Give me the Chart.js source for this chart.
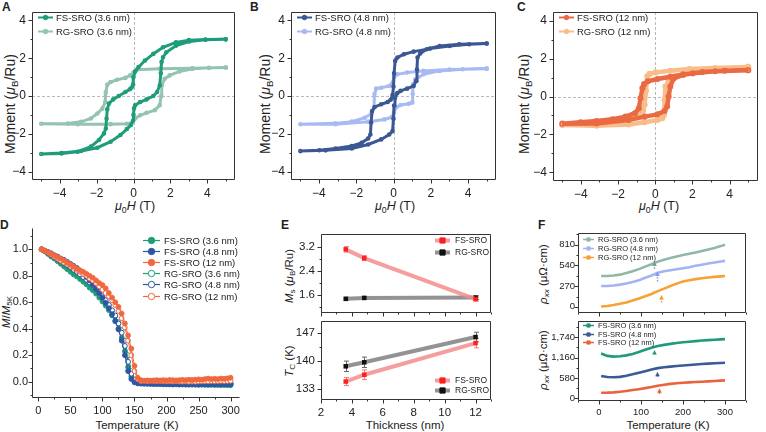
<!DOCTYPE html>
<html>
<head>
<meta charset="utf-8">
<script src="https://cdn.jsdelivr.net/npm/chart.js@4.4.1/dist/chart.umd.min.js"></script>
<style>
  body { margin: 0; background: #fff; }
  #wrap { position: relative; width: 766px; height: 432px; overflow: hidden; font-family: 'Liberation Sans', Arial, sans-serif; color: #222; }
  canvas { position: absolute; }
  .lbl { position: absolute; font-weight: bold; font-size: 12px; line-height: 12px; }
  .ttl { position: absolute; white-space: nowrap; transform: translate(-50%, -50%); font-size: 11.5px; line-height: 14px; }
  .ttl.v { transform: translate(-50%, -50%) rotate(-90deg); }
  sub { font-size: 70%; vertical-align: -0.3em; line-height: 0; }
</style>
</head>
<body>
<div id="wrap">
  <div class="lbl" style="left:2px;top:1px">A</div>
  <div class="lbl" style="left:250px;top:1px">B</div>
  <div class="lbl" style="left:517px;top:1px">C</div>
  <div class="lbl" style="left:0px;top:219px">D</div>
  <div class="lbl" style="left:281px;top:219px">E</div>
  <div class="lbl" style="left:538px;top:219px">F</div>

  <div class="ttl v" style="left:10px;top:104px;font-size:14px">Moment (<i>μ</i><sub>B</sub>/Ru)</div>
  <div class="ttl v" style="left:265px;top:104px;font-size:14px">Moment (<i>μ</i><sub>B</sub>/Ru)</div>
  <div class="ttl v" style="left:524px;top:104px;font-size:14px">Moment (<i>μ</i><sub>B</sub>/Ru)</div>
  <div class="ttl" style="left:135px;top:206px;font-size:12.5px"><i>μ</i><sub>0</sub><i>H</i> (T)</div>
  <div class="ttl" style="left:395px;top:206px;font-size:12.5px"><i>μ</i><sub>0</sub><i>H</i> (T)</div>
  <div class="ttl" style="left:659px;top:206px;font-size:12.5px"><i>μ</i><sub>0</sub><i>H</i> (T)</div>

  <div class="ttl v" style="left:6px;top:312px"><i>M</i>/<i>M</i><sub>5K</sub></div>
  <div class="ttl" style="left:137px;top:425px">Temperature (K)</div>
  <div class="ttl v" style="left:289px;top:276px"><i>M</i><sub>s</sub> (<i>μ</i><sub>B</sub>/Ru)</div>
  <div class="ttl v" style="left:289px;top:361px"><i>T</i><sub>C</sub> (K)</div>
  <div class="ttl" style="left:405px;top:425px">Thickness (nm)</div>
  <div class="ttl v" style="left:543px;top:274px"><i>ρ<sub>xx</sub></i> (μΩ·cm)</div>
  <div class="ttl v" style="left:543px;top:360px"><i>ρ<sub>xx</sub></i> (μΩ·cm)</div>
  <div class="ttl" style="left:668px;top:425px">Temperature (K)</div>
</div>
<script>
// ---- Panel A: hysteresis, 3.6 nm (descending branch then ascending branch)
const aFsH = [5, 3.9, 3.0, 2.3, 1.6, 1.07, 0.62, 0.27, 0.09, 0.0, -0.02, -0.1, -0.2, -0.44, -0.8, -1.1, -1.33, -1.42, -1.46, -1.5, -1.6, -1.87, -2.31, -3.02, -3.9, -5,
  -3.9, -2.84, -1.96, -1.24, -0.71, -0.36, -0.14, -0.02, 0.0, 0.03, 0.09, 0.36, 0.71, 1.07, 1.28, 1.42, 1.48, 1.52, 1.6, 1.78, 2.31, 3.02, 3.9, 5];
const aFsM = [3.0, 2.99, 2.96, 2.84, 2.58, 2.23, 1.88, 1.53, 1.3, 1.0, 0.6, 0.45, 0.36, 0.21, 0.0, -0.18, -0.4, -0.7, -1.2, -1.72, -1.98, -2.33, -2.68, -2.95, -3.04, -3.07,
  -3.02, -2.91, -2.74, -2.42, -2.07, -1.75, -1.54, -1.3, -1.0, -0.65, -0.49, -0.32, -0.18, 0.0, 0.21, 0.56, 1.2, 1.8, 2.05, 2.32, 2.67, 2.89, 2.98, 3.0];
const aRgH = [5, 3.2, 1.42, 0.18, 0.0, -0.18, -0.44, -0.89, -1.24, -1.42, -1.5, -1.53, -1.69, -1.96, -2.31, -2.84, -3.56, -5,
  -3.02, -1.24, -0.36, -0.09, 0.09, 0.36, 0.71, 1.16, 1.42, 1.5, 1.53, 1.69, 1.96, 2.49, 3.2, 4.09, 5];
const aRgM = [1.51, 1.47, 1.44, 1.39, 1.26, 1.09, 0.96, 0.86, 0.74, 0.6, 0.2, -0.32, -0.67, -0.93, -1.19, -1.37, -1.46, -1.47,
  -1.49, -1.49, -1.47, -1.42, -1.19, -1.02, -0.89, -0.75, -0.49, 0.0, 0.56, 0.91, 1.09, 1.3, 1.44, 1.49, 1.51];

// ---- Panel B: 4.8 nm
const bFsH = [5, 4.06, 3.01, 1.96, 1.08, 0.56, 0.21, 0.09, 0.03, 0.0, -0.05, -0.15, -0.31, -0.66, -1.01, -1.15, -1.2, -1.24, -1.36, -1.71, -2.24, -3.11, -3.99, -5,
  -3.64, -2.24, -1.36, -0.66, -0.23, -0.05, 0.0, 0.03, 0.08, 0.2, 0.38, 0.73, 1.08, 1.22, 1.26, 1.29, 1.43, 1.78, 2.48, 3.53, 5];
const bFsM = [2.78, 2.74, 2.65, 2.51, 2.35, 2.21, 2.04, 1.86, 1.2, 0.5, 0.05, -0.2, -0.32, -0.44, -0.58, -0.8, -1.4, -2.04, -2.25, -2.48, -2.65, -2.78, -2.87, -2.92,
  -2.88, -2.78, -2.57, -2.3, -2.04, -1.86, -1.2, -0.5, -0.1, 0.15, 0.27, 0.39, 0.53, 0.8, 1.4, 2.04, 2.25, 2.48, 2.65, 2.74, 2.78];
const bRgH = [5, 3.01, 1.61, 0.73, 0.21, 0.03, -0.05, -0.23, -0.66, -0.93, -1.02, -1.05, -1.19, -1.54, -2.24, -3.11, -5,
  -3.11, -1.36, -0.49, -0.1, 0.03, 0.12, 0.38, 0.82, 1.0, 1.03, 1.05, 1.17, 1.61, 2.48, 3.71, 5];
const bRgM = [1.45, 1.4, 1.33, 1.24, 1.15, 1.01, 0.71, 0.53, 0.44, 0.39, 0.1, -0.62, -0.94, -1.15, -1.36, -1.45, -1.5,
  -1.49, -1.36, -1.24, -1.12, -0.88, -0.62, -0.48, -0.41, -0.35, 0.1, 0.62, 0.88, 1.15, 1.33, 1.42, 1.45];

// ---- Panel C: 12 nm
const cFsH = [5, 3.74, 2.53, 1.5, 0.81, 0.12, -0.4, -0.6, -0.69, -0.79, -0.88, -1.09, -1.6, -2.29, -3.16, -4.02, -5,
  -3.16, -1.43, -0.57, 0.12, 0.5, 0.64, 0.72, 0.81, 0.98, 1.5, 2.02, 3.22, 5];
const cFsM = [1.38, 1.36, 1.29, 1.15, 1.04, 0.92, 0.8, 0.65, 0.44, -0.09, -0.62, -0.88, -1.06, -1.2, -1.29, -1.36, -1.43,
  -1.42, -1.24, -1.06, -0.94, -0.76, -0.53, 0.0, 0.53, 0.94, 1.15, 1.22, 1.33, 1.38];
const cRgH = [5, 3.22, 1.84, 0.81, 0.03, -0.31, -0.43, -0.5, -0.57, -0.66, -0.91, -1.43, -2.29, -3.16, -5,
  -3.16, -1.43, -0.57, 0.12, 0.38, 0.47, 0.5, 0.55, 0.72, 1.07, 1.84, 3.22, 5];
const cRgM = [1.56, 1.5, 1.45, 1.36, 1.27, 1.19, 1.06, 0.3, -0.44, -0.76, -0.94, -1.12, -1.29, -1.42, -1.5,
  -1.54, -1.47, -1.36, -1.24, -1.15, -0.97, -0.2, 0.53, 0.8, 1.06, 1.29, 1.45, 1.56];

// ---- Panel D: normalised M vs T
const dT = [5, 10, 15, 20, 25, 30, 35, 40, 45, 50, 55, 60, 65, 70, 75, 80, 85, 90, 95, 100,
  105, 110, 115, 120, 125, 130, 135, 140, 145, 150, 155, 160, 165, 170, 175, 180, 185, 190, 195, 200,
  205, 210, 215, 220, 225, 230, 235, 240, 245, 250, 255, 260, 265, 270, 275, 280, 285, 290, 295, 300];
const dFs36 = [1.0, 0.985, 0.965, 0.945, 0.93, 0.91, 0.89, 0.87, 0.85, 0.83, 0.81, 0.795, 0.775, 0.755, 0.735, 0.71, 0.69, 0.665, 0.635, 0.605,
  0.575, 0.54, 0.5, 0.455, 0.4, 0.33, 0.23, 0.11, 0.04, 0.008, -0.005, -0.01, -0.012, -0.014, -0.015, -0.016, -0.018, -0.017, -0.019, -0.02,
  -0.02, -0.021, -0.02, -0.022, -0.021, -0.022, -0.023, -0.022, -0.023, -0.024, -0.023, -0.024, -0.025, -0.024, -0.025, -0.025, -0.026, -0.025, -0.026, -0.027];
const dFs48 = [1.0, 0.99, 0.98, 0.97, 0.955, 0.945, 0.93, 0.92, 0.905, 0.89, 0.875, 0.86, 0.84, 0.815, 0.79, 0.765, 0.735, 0.7, 0.67, 0.635,
  0.595, 0.555, 0.51, 0.46, 0.395, 0.31, 0.2, 0.08, 0.02, -0.005, -0.013, -0.015, -0.016, -0.016, -0.017, -0.018, -0.017, -0.018, -0.019, -0.018,
  -0.019, -0.02, -0.019, -0.02, -0.02, -0.021, -0.02, -0.021, -0.02, -0.021, -0.02, -0.021, -0.02, -0.02, -0.021, -0.02, -0.021, -0.02, -0.021, -0.02];
const dFs12 = [1.0, 0.99, 0.975, 0.965, 0.955, 0.94, 0.93, 0.915, 0.9, 0.885, 0.87, 0.855, 0.84, 0.83, 0.815, 0.8, 0.785, 0.765, 0.745, 0.73,
  0.705, 0.67, 0.635, 0.6, 0.565, 0.515, 0.44, 0.35, 0.25, 0.12, 0.03, 0.012, 0.008, 0.01, 0.008, 0.01, 0.012, 0.01, 0.012, 0.01,
  0.013, 0.012, 0.01, 0.012, 0.014, 0.012, 0.015, 0.013, 0.016, 0.018, 0.016, 0.02, 0.024, 0.02, 0.022, 0.02, 0.024, 0.022, 0.025, 0.03];
const dRg36 = [1.0, 0.985, 0.97, 0.95, 0.935, 0.915, 0.9, 0.88, 0.86, 0.845, 0.825, 0.805, 0.79, 0.77, 0.75, 0.73, 0.71, 0.69, 0.665, 0.635,
  0.605, 0.575, 0.535, 0.495, 0.45, 0.39, 0.31, 0.2, 0.08, 0.015, 0.002, 0.0, -0.002, -0.004, -0.005, -0.004, -0.006, -0.005, -0.007, -0.006,
  -0.008, -0.007, -0.009, -0.008, -0.01, -0.009, -0.01, -0.011, -0.01, -0.012, -0.011, -0.012, -0.013, -0.012, -0.013, -0.012, -0.013, -0.014, -0.013, -0.013];
const dRg48 = [1.0, 0.99, 0.97, 0.955, 0.94, 0.925, 0.91, 0.895, 0.88, 0.865, 0.845, 0.83, 0.81, 0.79, 0.77, 0.75, 0.73, 0.705, 0.68, 0.645,
  0.615, 0.58, 0.54, 0.5, 0.44, 0.37, 0.27, 0.15, 0.06, 0.015, 0.0, 0.002, 0.004, 0.006, 0.005, 0.006, 0.004, 0.005, 0.003, 0.002,
  0.0, -0.002, -0.004, -0.005, -0.006, -0.008, -0.009, -0.01, -0.01, -0.012, -0.013, -0.012, -0.014, -0.013, -0.015, -0.014, -0.015, -0.014, -0.015, -0.015];
const dRg12 = [1.0, 0.99, 0.975, 0.96, 0.945, 0.93, 0.915, 0.9, 0.89, 0.875, 0.86, 0.845, 0.83, 0.815, 0.8, 0.78, 0.765, 0.745, 0.72, 0.695,
  0.67, 0.645, 0.615, 0.58, 0.535, 0.48, 0.41, 0.31, 0.2, 0.08, 0.02, 0.005, 0.006, 0.004, 0.006, 0.005, 0.004, 0.005, 0.004, 0.003,
  0.004, 0.002, 0.003, 0.002, 0.001, 0.002, 0.0, 0.001, 0.0, 0.002, 0.003, 0.004, 0.003, 0.005, 0.004, 0.005, 0.006, 0.005, 0.006, 0.007];

// ---- Panel E: saturation moment and Tc vs thickness
const eThick = [3.6, 4.8, 12];
const eMsFs = [3.11, 2.82, 1.46];
const eMsFsErr = [0.09, 0.08, 0.06];
const eMsRg = [1.47, 1.5, 1.51];
const eMsRgErr = [0.05, 0.05, 0.06];
const eTcFs = [134.9, 136.6, 144.5];
const eTcFsErr = [1.0, 1.2, 1.2];
const eTcRg = [138.7, 139.7, 146.0];
const eTcRgErr = [1.3, 1.3, 1.2];

// ---- Panel F: resistivity vs T
const fT = [5, 20, 35, 50, 65, 80, 95, 110, 125, 140, 155, 170, 185, 200, 215, 230, 245, 260, 275, 290, 300];
const fRg36 = [403, 402, 408, 420, 440, 465, 492, 525, 555, 590, 615, 637, 657, 675, 693, 710, 728, 748, 768, 792, 810];
const fRg48 = [272, 272, 278, 290, 304, 325, 348, 380, 410, 445, 465, 478, 490, 503, 517, 535, 550, 565, 578, 592, 600];
const fRg12 = [5, 12, 25, 40, 58, 82, 108, 138, 168, 205, 238, 272, 303, 330, 348, 362, 373, 383, 391, 398, 403];
const fFs36 = [1280, 1210, 1190, 1200, 1225, 1265, 1320, 1385, 1440, 1490, 1525, 1553, 1578, 1598, 1615, 1632, 1648, 1660, 1672, 1682, 1688];
const fFs48 = [640, 608, 602, 612, 645, 685, 730, 775, 820, 862, 885, 905, 922, 937, 950, 965, 978, 990, 1000, 1010, 1017];
const fFs12 = [160, 163, 172, 188, 210, 236, 262, 292, 322, 360, 390, 412, 430, 445, 455, 465, 474, 485, 496, 507, 514];
// Tc arrows: temperature, arrow head and tail values
const fArrTopT = [130, 137, 147];
const fArrTopHead = [593, 461, 154];
const fArrTopTail = [497, 330, 58];
const fArrBotT = [130, 139, 143];
const fArrBotHead = [1380, 760, 286];
const fArrBotTail = [1257, 617, 123];

const FONT = "'Liberation Sans', Arial, sans-serif";

function pts(xs, ys) {
  return xs.map((x, i) => ({ x: x, y: ys[i] }));
}

const minus = v => (v < 0 ? '\u2212' + Math.abs(v) : String(v));

// Frame, outward ticks and dashed zero lines
const decoPlugin = {
  id: 'deco',
  beforeDatasetsDraw(chart, args, o) {
    if (!o.zero) return;
    const { ctx, chartArea: a, scales: { x, y } } = chart;
    const px = Math.round(x.getPixelForValue(0)) + 0.5;
    const py = Math.round(y.getPixelForValue(0)) + 0.5;
    ctx.save();
    ctx.strokeStyle = '#a8a8a8';
    ctx.lineWidth = 0.8;
    ctx.setLineDash([3, 2]);
    ctx.beginPath();
    ctx.moveTo(px, a.top); ctx.lineTo(px, a.bottom);
    ctx.moveTo(a.left, py); ctx.lineTo(a.right, py);
    ctx.stroke();
    ctx.restore();
  },
  afterDraw(chart, args, o) {
    if (o.box === undefined) return;
    const { ctx, chartArea: a, scales: { x, y } } = chart;
    const L = Math.round(a.left) + 0.5, R = Math.round(a.right) - 0.5;
    const T = Math.round(a.top) + 0.5, B = Math.round(a.bottom) - 0.5;
    ctx.save();
    ctx.strokeStyle = '#333';
    ctx.lineWidth = 1;
    ctx.beginPath();
    if (o.box) {
      ctx.rect(L, T, R - L, B - T);
    } else {
      ctx.moveTo(L, T); ctx.lineTo(L, B); ctx.lineTo(R, B);
    }
    const xt = (vals, len) => vals.forEach(v => {
      const p = Math.round(x.getPixelForValue(v)) + 0.5;
      ctx.moveTo(p, B); ctx.lineTo(p, B + len);
    });
    const yt = (vals, len) => vals.forEach(v => {
      const p = Math.round(y.getPixelForValue(v)) + 0.5;
      ctx.moveTo(L, p); ctx.lineTo(L - len, p);
    });
    xt(x.ticks.map(t => t.value), 4);
    xt(o.xMinor || [], 2);
    yt(y.ticks.map(t => t.value), 4);
    yt(o.yMinor || [], 2);
    ctx.stroke();
    ctx.restore();
  }
};

// Legend drawn inside the plot area
const legendPlugin = {
  id: 'lgd',
  afterDraw(chart, args, o) {
    if (!o.rows) return;
    const { ctx, chartArea: a } = chart;
    ctx.save();
    ctx.font = o.size + 'px ' + FONT;
    ctx.textBaseline = 'middle';
    o.rows.forEach((di, i) => {
      const ds = chart.data.datasets[di];
      const x0 = a.left + o.x, yy = Math.round(a.top + o.y + i * o.dy) + 0.5;
      ctx.strokeStyle = ds.borderColor;
      ctx.lineWidth = o.lw;
      ctx.beginPath();
      ctx.moveTo(x0, yy); ctx.lineTo(x0 + o.len, yy);
      ctx.stroke();
      const mx = x0 + o.len / 2;
      ctx.fillStyle = ds.pointBackgroundColor || ds.borderColor;
      ctx.strokeStyle = ds.pointBorderColor || ds.borderColor;
      ctx.lineWidth = 1;
      ctx.beginPath();
      if (ds.pointStyle === 'rect') ctx.rect(mx - o.r, yy - o.r, o.r * 2, o.r * 2);
      else ctx.arc(mx, yy, o.r, 0, Math.PI * 2);
      ctx.fill();
      ctx.stroke();
      ctx.fillStyle = '#222';
      ctx.fillText(ds.label, x0 + o.len + o.gap, yy + 0.5);
    });
    ctx.restore();
  }
};

// Vertical error bars from dataset.errors
const errPlugin = {
  id: 'errbars',
  beforeDatasetsDraw(chart) {
    const { ctx, scales: { y } } = chart;
    chart.data.datasets.forEach((ds, i) => {
      if (!ds.errors) return;
      const meta = chart.getDatasetMeta(i);
      ctx.save();
      ctx.strokeStyle = ds.errColor;
      ctx.lineWidth = 1;
      meta.data.forEach((pt, j) => {
        const v = ds.data[j].y, e = ds.errors[j];
        const y1 = y.getPixelForValue(v + e), y2 = y.getPixelForValue(v - e);
        const px = Math.round(pt.x) + 0.5;
        ctx.beginPath();
        ctx.moveTo(px, y1); ctx.lineTo(px, y2);
        ctx.moveTo(px - 2.5, y1); ctx.lineTo(px + 2.5, y1);
        ctx.moveTo(px - 2.5, y2); ctx.lineTo(px + 2.5, y2);
        ctx.stroke();
      });
      ctx.restore();
    });
  }
};

// Little Tc arrows in panel F
const arrowPlugin = {
  id: 'arrows',
  afterDatasetsDraw(chart, args, o) {
    if (!o.at) return;
    const { ctx, scales: { x, y } } = chart;
    ctx.save();
    o.at.forEach((t, i) => {
      const px = Math.round(x.getPixelForValue(t)) + 0.5;
      const yh = y.getPixelForValue(o.head[i]), yt = y.getPixelForValue(o.tail[i]);
      ctx.strokeStyle = ctx.fillStyle = o.colors[i];
      ctx.lineWidth = 1.4;
      ctx.setLineDash(o.dash ? [1.5, 1.2] : []);
      ctx.beginPath();
      ctx.moveTo(px, yt); ctx.lineTo(px, yh + 3);
      ctx.stroke();
      ctx.setLineDash([]);
      ctx.beginPath();
      ctx.moveTo(px, yh); ctx.lineTo(px - 2.3, yh + 4.5); ctx.lineTo(px + 2.3, yh + 4.5);
      ctx.closePath();
      ctx.fill();
    });
    ctx.restore();
  }
};

Chart.register(decoPlugin, legendPlugin, errPlugin, arrowPlugin);

// box = plot area in page pixels, pad = room for tick labels around it
function makeChart(box, spec) {
  const pad = Object.assign({ l: 30, t: 15, r: 4, b: 22 }, spec.pad || {});
  const cv = document.createElement('canvas');
  const w = box.r - box.l + pad.l + pad.r, h = box.b - box.t + pad.t + pad.b;
  cv.width = w; cv.height = h;
  cv.style.left = (box.l - pad.l) + 'px';
  cv.style.top = (box.t - pad.t) + 'px';
  cv.style.width = w + 'px';
  cv.style.height = h + 'px';
  document.getElementById('wrap').appendChild(cv);
  const tickFont = { family: FONT, size: spec.tickSize || 11 };
  const yPad = spec.yPad === undefined ? 6 : spec.yPad;
  return new Chart(cv.getContext('2d'), {
    type: 'scatter',
    data: { datasets: spec.datasets },
    options: {
      responsive: false,
      animation: false,
      devicePixelRatio: 1,
      layout: { padding: { left: 0, top: pad.t, right: pad.r, bottom: 0 } },
      scales: {
        x: {
          type: 'linear', min: spec.x.min, max: spec.x.max,
          grid: { display: false, drawTicks: false }, border: { display: false },
          afterBuildTicks: s => { s.ticks = spec.x.major.map(v => ({ value: v })); },
          afterFit: s => { s.height = pad.b; },
          ticks: { display: spec.x.labels !== false, font: tickFont, color: '#222', padding: 6, autoSkip: false, maxRotation: 0, callback: spec.x.fmt || minus }
        },
        y: {
          type: 'linear', min: spec.y.min, max: spec.y.max,
          grid: { display: false, drawTicks: false }, border: { display: false },
          afterBuildTicks: s => { s.ticks = spec.y.major.map(v => ({ value: v })); },
          afterFit: s => { s.width = pad.l; },
          ticks: { font: tickFont, color: '#222', padding: yPad, autoSkip: false, callback: spec.y.fmt || minus }
        }
      },
      plugins: {
        legend: { display: false },
        tooltip: { enabled: false },
        deco: { box: spec.box !== false, zero: !!spec.zero, xMinor: spec.x.minor, yMinor: spec.y.minor },
        lgd: spec.legend || {},
        arrows: spec.arrows || {}
      }
    }
  });
}

function loop(label, xs, ys, color, width) {
  return {
    label: label, data: pts(xs, ys), showLine: true,
    borderColor: color, backgroundColor: color, pointBackgroundColor: color, pointBorderColor: color,
    borderWidth: width, pointRadius: 0.8, pointStyle: 'circle', tension: 0
  };
}

const hx = { min: -5.5, max: 5.5, major: [-4, -2, 0, 2, 4], minor: [-5, -3, -1, 1, 3, 5] };
const hy = { min: -4.45, max: 4.45, major: [-4, -2, 0, 2, 4], minor: [-3, -1, 1, 3] };
const hLegend = { rows: [0, 1], x: 6, y: 4.5, dy: 14, len: 15, gap: 3, r: 2.3, lw: 2, size: 9.5 };

// A
makeChart({ l: 32, t: 12, r: 238, b: 180 }, {
  x: hx, y: hy, zero: true, legend: hLegend, tickSize: 12,
  datasets: [
    loop('FS-SRO (3.6 nm)', aFsH, aFsM, '#1f9c79', 3),
    loop('RG-SRO (3.6 nm)', aRgH, aRgM, '#95c3b2', 3)
  ]
});

// B
makeChart({ l: 291, t: 12, r: 499, b: 180 }, {
  x: hx, y: hy, zero: true, legend: hLegend, tickSize: 12,
  datasets: [
    loop('FS-SRO (4.8 nm)', bFsH, bFsM, '#3b5893', 3),
    loop('RG-SRO (4.8 nm)', bRgH, bRgM, '#a7baf3', 3)
  ]
});

// C
makeChart({ l: 553, t: 12, r: 764, b: 181 }, {
  x: hx, y: hy, zero: true, legend: hLegend, tickSize: 12, pad: { r: 2 },
  datasets: [
    loop('FS-SRO (12 nm)', cFsH, cFsM, '#ea6a44', 4.5),
    loop('RG-SRO (12 nm)', cRgH, cRgM, '#f8bd89', 4.5)
  ]
});

// D
function mt(label, ys, color, filled, order) {
  return {
    label: label, data: pts(dT, ys), showLine: true, order: order,
    borderColor: color, borderWidth: 1,
    pointBackgroundColor: filled ? color : '#fff', pointBorderColor: color,
    pointBorderWidth: 1, pointRadius: 2.4, pointStyle: 'circle'
  };
}
makeChart({ l: 32, t: 228, r: 242, b: 398 }, {
  box: false, tickSize: 11, yPad: 4,
  x: { min: -10, max: 315, major: [0, 50, 100, 150, 200, 250, 300], minor: [25, 75, 125, 175, 225, 275] },
  y: { min: -0.123, max: 1.161, major: [0, 0.2, 0.4, 0.6, 0.8, 1.0], minor: [-0.1, 0.1, 0.3, 0.5, 0.7, 0.9, 1.1], fmt: v => v.toFixed(1) },
  legend: { rows: [0, 1, 2, 3, 4, 5], x: 111, y: 12, dy: 11.1, len: 17, gap: 4, r: 3.2, lw: 1.2, size: 9.5 },
  datasets: [
    mt('FS-SRO (3.6 nm)', dFs36, '#1d9e77', true, 4),
    mt('FS-SRO (4.8 nm)', dFs48, '#2f56a5', true, 2),
    mt('FS-SRO (12 nm)', dFs12, '#f1683f', true, 0),
    mt('RG-SRO (3.6 nm)', dRg36, '#1d9e77', false, 5),
    mt('RG-SRO (4.8 nm)', dRg48, '#2f56a5', false, 3),
    mt('RG-SRO (12 nm)', dRg12, '#f1683f', false, 1)
  ]
});

// E
function thick(label, ys, errs, line, mark, errColor) {
  return {
    label: label, data: pts(eThick, ys), showLine: true, errors: errs, errColor: errColor,
    borderColor: line, borderWidth: 4, pointStyle: 'rect', pointRadius: 3.2,
    pointBackgroundColor: mark, pointBorderColor: mark, pointBorderWidth: 0
  };
}
const ex = { min: 2, max: 13, major: [2, 4, 6, 8, 10, 12], minor: [3, 5, 7, 9, 11, 13] };
makeChart({ l: 321, t: 234, r: 491, b: 313 }, {
  pad: { b: 15 }, tickSize: 11.5,
  x: Object.assign({ labels: false }, ex),
  y: { min: 1.0, max: 3.62, major: [1.6, 2.4, 3.2], minor: [1.2, 2.0, 2.8], fmt: v => v.toFixed(1) },
  legend: { rows: [0, 1], x: 114, y: 6, dy: 11.7, len: 15, gap: 5, r: 2.6, lw: 4, size: 8.5 },
  datasets: [
    thick('FS-SRO', eMsFs, eMsFsErr, 'rgba(245,140,140,0.85)', '#ff1f1f', '#f07a7a'),
    thick('RG-SRO', eMsRg, eMsRgErr, 'rgba(128,128,128,0.85)', '#111', '#666')
  ]
});
makeChart({ l: 321, t: 321, r: 491, b: 400 }, {
  tickSize: 11.5,
  x: ex,
  y: { min: 130.3, max: 150, major: [133, 140, 147], minor: [136.5, 143.5] },
  legend: { rows: [0, 1], x: 114, y: 59, dy: 10, len: 15, gap: 5, r: 2.6, lw: 4, size: 8.5 },
  datasets: [
    thick('FS-SRO', eTcFs, eTcFsErr, 'rgba(245,140,140,0.85)', '#ff1f1f', '#f07a7a'),
    thick('RG-SRO', eTcRg, eTcRgErr, 'rgba(128,128,128,0.85)', '#111', '#666')
  ]
});

// F
function rho(label, ys, color) {
  return {
    label: label, data: pts(fT, ys), showLine: true,
    borderColor: color, borderWidth: 2.6, pointRadius: 0, pointStyle: 'rect',
    pointBackgroundColor: color, pointBorderColor: color
  };
}
const fx = { min: -50, max: 350, major: [0, 100, 200, 300], minor: [-50, 50, 150, 250, 350] };
const thousands = v => v.toLocaleString('en-US');
makeChart({ l: 578, t: 233, r: 746, b: 313 }, {
  pad: { l: 36, b: 15, r: 6 }, tickSize: 9.5, yPad: 3,
  x: Object.assign({ labels: false }, fx),
  y: { min: -80, max: 963, major: [0, 270, 540, 810], minor: [135, 405, 675, 945], fmt: thousands },
  legend: { rows: [0, 1, 2], x: 5, y: 6, dy: 8.8, len: 11, gap: 4, r: 1.6, lw: 1.5, size: 7.5 },
  arrows: { at: fArrTopT, head: fArrTopHead, tail: fArrTopTail, colors: ['#6fa18b', '#8399ee', '#f39a2a'], dash: true },
  datasets: [
    rho('RG-SRO (3.6 nm)', fRg36, '#8fb8a6'),
    rho('RG-SRO (4.8 nm)', fRg48, '#a3b4f5'),
    rho('RG-SRO (12 nm)', fRg12, '#f5a238')
  ]
});
makeChart({ l: 578, t: 321, r: 746, b: 401 }, {
  pad: { l: 36, r: 6 }, tickSize: 9.5, yPad: 3,
  x: Object.assign({ }, fx),
  y: { min: -75, max: 2205, major: [0, 580, 1160, 1740], minor: [290, 870, 1450, 2030], fmt: thousands },
  legend: { rows: [0, 1, 2], x: 5, y: 4, dy: 8.7, len: 11, gap: 4, r: 1.6, lw: 1.5, size: 7.5 },
  arrows: { at: fArrBotT, head: fArrBotHead, tail: fArrBotTail, colors: ['#22997a', '#3c5a96', '#e8643f'], dash: false },
  datasets: [
    rho('FS-SRO (3.6 nm)', fFs36, '#22997a'),
    rho('FS-SRO (4.8 nm)', fFs48, '#3c5a96'),
    rho('FS-SRO (12 nm)', fFs12, '#e8643f')
  ]
});
</script>
</body>
</html>
